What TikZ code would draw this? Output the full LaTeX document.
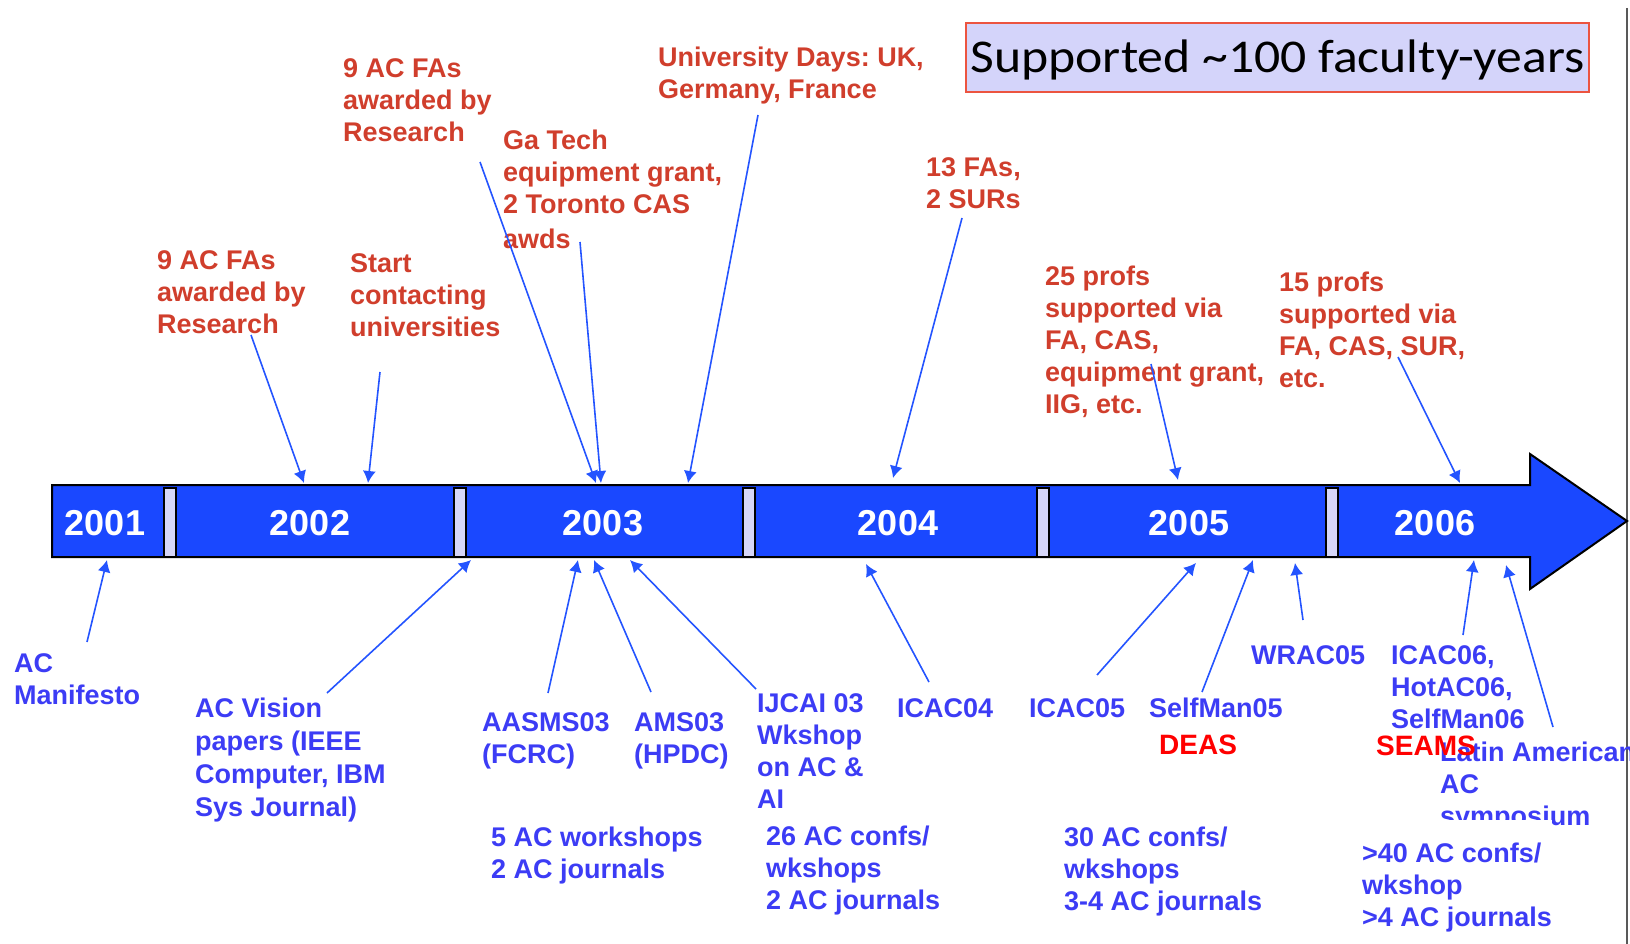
\documentclass[tikz,border=0pt]{standalone}
\usepackage{fontspec}
\setmainfont{Liberation Sans}
\newfontfamily\boxfont{Carlito}
\usepackage{tikz}
\usetikzlibrary{arrows.meta}

\definecolor{barblue}{RGB}{26,72,255}
\definecolor{seplav}{RGB}{214,214,248}
\definecolor{notered}{RGB}{208,62,44}
\definecolor{noteblue}{RGB}{60,60,245}
\definecolor{ptrblue}{RGB}{36,84,255}
\definecolor{boxfill}{RGB}{212,212,250}
\definecolor{boxline}{RGB}{236,84,64}
\frenchspacing

\begin{document}
\begin{tikzpicture}[x=1pt,y=-1pt,
  rednote/.style={anchor=north west,inner sep=0pt,align=left,text=notered,font=\bfseries\fontsize{27}{32}\selectfont},
  bluenote/.style={rednote,text=noteblue},
  redtag/.style={anchor=north west,inner sep=0pt,text=red,font=\bfseries\fontsize{28}{32}\selectfont},
  yearlbl/.style={text=white,font=\bfseries\fontsize{36}{40}\selectfont},
  sepbox/.style={fill=seplav,draw=black,line width=2pt},
  ptr/.style={draw=ptrblue,line width=1.6pt,-{Latex[length=12pt,width=13pt]}}]

\useasboundingbox (0,0) rectangle (1630,944);
\draw[gray!70!black,line width=1.5pt] (1627,8) -- (1627,944);

% total
\draw (1277.5,57.5) node[fill=boxfill,draw=boxline,line width=2pt,minimum width=623pt,minimum height=69pt,inner sep=0pt,font=\boxfont\fontsize{47}{50}\selectfont] (total) {\raisebox{-15pt}[0pt][0pt]{\scalebox{1.1}[1]{Supported \textasciitilde100 faculty-years}}};

% time line
\draw[fill=barblue,line width=2pt] (52,485) -- (1530,485) -- (1530,454) -- (1627,521) -- (1530,589) -- (1530,557) -- (52,557) -- cycle;
\foreach \x in {164,454,743,1037,1326}
  \draw[sepbox] (\x,488) rectangle +(12,69);

\draw (105,523) node[yearlbl] (y2001) {2001};
\draw (310,523) node[yearlbl] (y2002) {2002};
\draw (603,523) node[yearlbl] (y2003) {2003};
\draw (898,523) node[yearlbl] (y2004) {2004};
\draw (1189,523) node[yearlbl] (y2005) {2005};
\draw (1435,523) node[yearlbl] (y2006) {2006};

% funding, above
\draw (157,250) node[rednote] (fa02) {9 AC FAs\\awarded by\\Research};
\draw (350,253) node[rednote] (start02) {Start\\contacting\\universities};
\draw (343,58) node[rednote] (fa03) {9 AC FAs\\awarded by\\Research};
\draw (503,130) node[rednote] (gatech03) {Ga Tech\\equipment grant,\\2 Toronto CAS\\[3pt]awds};
\draw (658,47) node[rednote] (unidays03) {University Days: UK,\\Germany, France};
\draw (926,157) node[rednote] (fa04) {13 FAs,\\2 SURs};
\draw (1045,266) node[rednote] (profs05) {25 profs\\supported via\\FA, CAS,\\equipment grant,\\IIG, etc.};
\draw (1279,272) node[rednote] (profs06) {15 profs\\supported via\\FA, CAS, SUR,\\etc.};

% events, below
\draw (14,653) node[bluenote] (manifesto) {AC\\Manifesto};
\draw (195,698) node[bluenote] (vision) {AC Vision\\[1pt]papers (IEEE\\[1pt]Computer, IBM\\[1pt]Sys Journal)};
\draw (482,712) node[bluenote] (aasms03) {AASMS03\\(FCRC)};
\draw (634,712) node[bluenote] (ams03) {AMS03\\(HPDC)};
\draw (757,693) node[bluenote] (ijcai03) {IJCAI 03\\Wkshop\\on AC \&\\AI};
\draw (491,827) node[bluenote] (ws03) {5 AC workshops\\2 AC journals};
\draw (766,826) node[bluenote] (confs04) {26 AC confs/\\wkshops\\2 AC journals};
\draw (897,698) node[bluenote] (icac04) {ICAC04};
\draw (1029,698) node[bluenote] (icac05) {ICAC05};
\draw (1149,698) node[bluenote] (selfman05) {SelfMan05};
\draw (1251,645) node[bluenote] (wrac05) {WRAC05};
\draw (1064,827) node[bluenote] (confs05) {30 AC confs/\\wkshops\\3-4 AC journals};
\draw (1391,645) node[bluenote] (icac06) {ICAC06,\\HotAC06,\\SelfMan06};
\draw (1440,742) node[bluenote] (latin06) {Latin American\\AC\\symposium};
\draw (1362,820) node[bluenote,fill=white,inner ysep=23pt] (confs06) {>40 AC confs/\\wkshop\\>4 AC journals};
\draw (1159,735) node[redtag] (deas) {DEAS};
\draw (1376,736) node[redtag] (seams) {SEAMS};

% pointer ends
\coordinate (fa02t) at (251,335);      \coordinate (fa02h) at (304,483);
\coordinate (start02t) at (380,372);   \coordinate (start02h) at (368,483);
\coordinate (fa03t) at (480,162);      \coordinate (fa03h) at (596,483);
\coordinate (gatech03t) at (580,242);  \coordinate (gatech03h) at (601,483);
\coordinate (unidays03t) at (758,115); \coordinate (unidays03h) at (688,483);
\coordinate (fa04t) at (962,218);      \coordinate (fa04h) at (893,478);
\coordinate (profs05t) at (1151,364);  \coordinate (profs05h) at (1178,480);
\coordinate (profs06t) at (1398,357);  \coordinate (profs06h) at (1460,483);

\coordinate (manifestot) at (87,642);  \coordinate (manifestoh) at (107,560);
\coordinate (visiont) at (327,693);    \coordinate (visionh) at (471,560);
\coordinate (aasms03t) at (548,693);   \coordinate (aasms03h) at (578,560);
\coordinate (ams03t) at (651,692);     \coordinate (ams03h) at (594,560);
\coordinate (ijcai03t) at (756,689);   \coordinate (ijcai03h) at (630,560);
\coordinate (icac04t) at (929,682);    \coordinate (icac04h) at (866,564);
\coordinate (icac05t) at (1097,675);   \coordinate (icac05h) at (1196,563);
\coordinate (selfman05t) at (1202,692);\coordinate (selfman05h) at (1253,560);
\coordinate (wrac05t) at (1303,620);   \coordinate (wrac05h) at (1295,563);
\coordinate (icac06t) at (1463,635);   \coordinate (icac06h) at (1474,560);
\coordinate (latin06t) at (1553,727);  \coordinate (latin06h) at (1506,565);

\draw[ptr] (fa02t) -- (fa02h);
\draw[ptr] (start02t) -- (start02h);
\draw[ptr] (fa03t) -- (fa03h);
\draw[ptr] (gatech03t) -- (gatech03h);
\draw[ptr] (unidays03t) -- (unidays03h);
\draw[ptr] (fa04t) -- (fa04h);
\draw[ptr] (profs05t) -- (profs05h);
\draw[ptr] (profs06t) -- (profs06h);

\draw[ptr] (manifestot) -- (manifestoh);
\draw[ptr] (visiont) -- (visionh);
\draw[ptr] (aasms03t) -- (aasms03h);
\draw[ptr] (ams03t) -- (ams03h);
\draw[ptr] (ijcai03t) -- (ijcai03h);
\draw[ptr] (icac04t) -- (icac04h);
\draw[ptr] (icac05t) -- (icac05h);
\draw[ptr] (selfman05t) -- (selfman05h);
\draw[ptr] (wrac05t) -- (wrac05h);
\draw[ptr] (icac06t) -- (icac06h);
\draw[ptr] (latin06t) -- (latin06h);

\end{tikzpicture}
\end{document}
